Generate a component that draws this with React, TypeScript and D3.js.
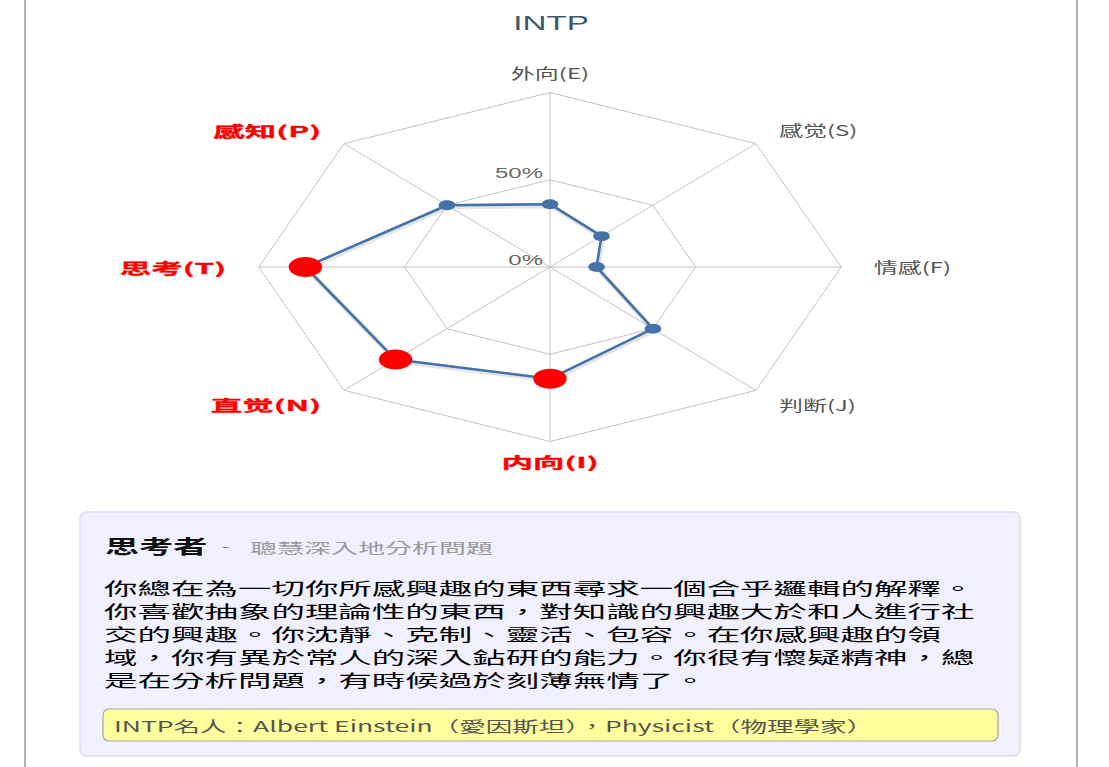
import React from "react";
import * as d3 from "d3";

// MBTI radar, values in percent
const categories = ["外向(E)", "感觉(S)", "情感(F)", "判断(J)", "内向(I)", "直觉(N)", "思考(T)", "感知(P)"];
const values = [36, 25, 16, 50, 64, 75, 84, 50];
const dominant = [false, false, false, false, true, true, true, true];
const gridLevels = [50, 100];
const tickLabels = [
  { v: 0, text: "0%" },
  { v: 50, text: "50%" },
];

const bodyLines = [
  "你總在為一切你所感興趣的東西尋求一個合乎邏輯的解釋。",
  "你喜歡抽象的理論性的東西，對知識的興趣大於和人進行社",
  "交的興趣。你沈靜、克制、靈活、包容。在你感興趣的領",
  "域，你有異於常人的深入鉆研的能力。你很有懷疑精神，總",
  "是在分析問題，有時候過於刻薄無情了。",
];

const W = 1109, H = 767;
const SX = 1.669; // the picture is stretched horizontally
const cx = 550, cy = 267, R = 174.5;
const CJK = "'Noto Sans CJK TC', 'Noto Sans CJK SC', sans-serif";

export default function App() {
  const r = d3.scaleLinear().domain([0, 100]).range([0, R]);
  const angle = d3.scaleLinear().domain([0, categories.length]).range([0, 2 * Math.PI]);
  const px = (i: number, v: number) => cx + r(v) * Math.sin(angle(i)) * SX;
  const py = (i: number, v: number) => cy - r(v) * Math.cos(angle(i));

  const line = d3.line<number>().x((v, i) => px(i, v)).y((v, i) => py(i, v)).curve(d3.curveLinearClosed);
  const ring = (lvl: number) => line(categories.map(() => lvl)) || "";

  const labelR = 194;

  return (
    <svg width={W} height={H} style={{ position: "absolute", left: 0, top: 0, background: "#fff" }}>
      {/* container border */}
      <line x1={25} x2={25} y1={0} y2={H} stroke="#b4b4b4" strokeWidth={2} />
      <line x1={1077} x2={1077} y1={0} y2={H} stroke="#b4b4b4" strokeWidth={2} />

      <text transform="translate(551,30) scale(1.58,1)" textAnchor="middle" fontSize={21}
        fontFamily="'Liberation Sans', sans-serif" fill="#3E576F">INTP</text>

      {/* grid */}
      <g fill="none" stroke="#c4c4c4" strokeWidth={1}>
        {gridLevels.map(l => <path key={l} d={ring(l)} />)}
        {categories.map((c, i) => (
          <line key={c} x1={cx} y1={cy} x2={px(i, 100)} y2={py(i, 100)} />
        ))}
      </g>
      {tickLabels.map(t => (
        <text key={t.text} transform={`translate(${cx - 7},${cy - r(t.v) - 2}) scale(1.6,1)`} textAnchor="end"
          fontSize={15} fontFamily="'Liberation Sans', sans-serif" fill="#6a6a6a">{t.text}</text>
      ))}

      {/* axis labels */}
      {categories.map((c, i) => {
        const s = Math.sin(angle(i));
        const anchor = s > 0.01 ? "start" : s < -0.01 ? "end" : "middle";
        const x = cx + labelR * s * SX;
        const y = cy - labelR * Math.cos(angle(i));
        const dom = dominant[i];
        return (
          <text key={c} transform={`translate(${x},${y}) scale(${dom ? 2.1 : 1.6},1)`} textAnchor={anchor}
            dominantBaseline="central" fontSize={15} fontFamily={CJK}
            fontWeight={dom ? "bold" : "normal"} fill={dom ? "#ff0000" : "#555"}
            stroke={dom ? "#ff0000" : "none"} strokeWidth={0.3}>{c}</text>
        );
      })}

      {/* series */}
      <path d={line(values) || ""} fill="none" stroke="rgba(0,0,0,0.1)" strokeWidth={5} transform="translate(1,1.5)" />
      <path d={line(values) || ""} fill="none" stroke="#4572A7" strokeWidth={2.6} strokeLinejoin="round" />
      {values.map((v, i) => {
        const big = v > 50; // majority side gets the big red marker
        return (
          <ellipse key={i} cx={px(i, v)} cy={py(i, v)} rx={(big ? 10 : 5) * SX} ry={big ? 10 : 5}
            fill={big ? "#ff0000" : "#4572A7"} />
        );
      })}

      {/* description box */}
      <rect x={80} y={512} width={940} height={244} rx={7} fill="#f0f0ff" stroke="#dcdcf6" strokeWidth={1.5} />
      <text transform="translate(105,554) scale(1.75,1)" fontSize={19.5} fontWeight="bold" fontFamily={CJK} fill="#111">思考者</text>
      <text transform="translate(222,551) scale(1.6,1)" fontSize={14} fontFamily={CJK} fill="#777">-</text>
      <text transform="translate(250,553) scale(1.93,1)" fontSize={14} fontFamily={CJK} fill="#999">聰慧深入地分析問題</text>
      {bodyLines.map((l, i) => (
        <text key={i} transform={`translate(104,${595 + i * 23}) scale(2.03,1)`} fontSize={16.5} fontFamily={CJK} fill="#000">{l}</text>
      ))}
      <rect x={103} y={709} width={895} height={32} rx={6} fill="#ffff9e" stroke="#a4a4a4" strokeWidth={1.2} />
      <text x={114} y={732} fontSize={15} fontFamily={CJK} fill="#555" textLength={759} lengthAdjust="spacingAndGlyphs">
        INTP名人：Albert Einstein（愛因斯坦），Physicist（物理學家）
      </text>
    </svg>
  );
}
